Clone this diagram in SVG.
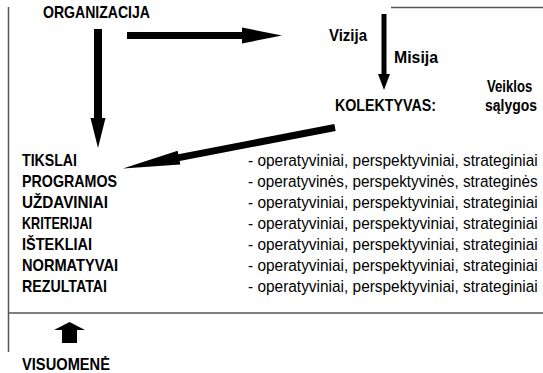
<svg xmlns="http://www.w3.org/2000/svg" width="543" height="373" viewBox="0 0 543 373">
<style>
.b{font-family:"Liberation Sans",Arial,sans-serif;font-weight:bold;font-size:17px;fill:#000}
.r{font-family:"Liberation Sans",Arial,sans-serif;font-size:17px;fill:#000}
.ln{stroke:#555;stroke-width:1.5;fill:none}
.ar{fill:#000;stroke:none}
</style>
<rect width="543" height="373" fill="#fff"/>
<g id="frame">
<line class="ln" x1="8.5" y1="7" x2="8.5" y2="352"/>
<line class="ln" x1="391" y1="7.5" x2="543" y2="7.5"/>
<line class="ln" x1="8" y1="313" x2="543" y2="313"/>
</g>
<g id="connectors">
<polygon class="ar" points="94,29 102,29 102,118 105.5,118 98,148 90.5,118 94,118"/>
<polygon class="ar" points="127,32 242,32 242,27.5 282,35.5 242,43.5 242,39 127,39"/>
<polygon class="ar" points="381.5,14 386.5,14 386.5,74 390,74 384,90 378,74 381.5,74"/>
<polygon class="ar" points="334.34,124.06 178.34,154.16 177.67,150.73 123,168.4 180.33,164.47 179.66,161.04 335.66,130.94"/>
<polygon class="ar" points="62,343 62,330 54,330 69.5,322 85,330 77,330 77,343"/>
</g>
<g id="organizacija"><text class="b" x="43" y="18" textLength="107" lengthAdjust="spacingAndGlyphs">ORGANIZACIJA</text></g>
<g id="vizija"><text class="b" x="329" y="41" textLength="38" lengthAdjust="spacingAndGlyphs">Vizija</text></g>
<g id="misija"><text class="b" x="394" y="63" textLength="44" lengthAdjust="spacingAndGlyphs">Misija</text></g>
<g id="kolektyvas"><text class="b" x="335" y="111" textLength="101" lengthAdjust="spacingAndGlyphs">KOLEKTYVAS:</text></g>
<g id="veiklos-salygos">
<text class="b" transform="translate(487,92) scale(0.773,1)">Veiklos</text>
<text class="b" transform="translate(485,111) scale(0.821,1)">sąlygos</text>
</g>
<g id="list">
<text class="b" x="22" y="166" textLength="55" lengthAdjust="spacingAndGlyphs">TIKSLAI</text>
<text class="b" x="22" y="187" textLength="95" lengthAdjust="spacingAndGlyphs">PROGRAMOS</text>
<text class="b" x="22" y="208" textLength="86" lengthAdjust="spacingAndGlyphs">UŽDAVINIAI</text>
<text class="b" x="22" y="229" textLength="70" lengthAdjust="spacingAndGlyphs">KRITERIJAI</text>
<text class="b" x="22" y="250" textLength="70" lengthAdjust="spacingAndGlyphs">IŠTEKLIAI</text>
<text class="b" x="22" y="271" textLength="96" lengthAdjust="spacingAndGlyphs">NORMATYVAI</text>
<text class="b" x="22" y="292" textLength="85" lengthAdjust="spacingAndGlyphs">REZULTATAI</text>
<text class="r" transform="translate(248,166) scale(0.908,1)">- operatyviniai, perspektyviniai, strateginiai</text>
<text class="r" transform="translate(248,187) scale(0.9,1)">- operatyvinės, perspektyvinės, strateginės</text>
<text class="r" transform="translate(248,208) scale(0.908,1)">- operatyviniai, perspektyviniai, strateginiai</text>
<text class="r" transform="translate(248,229) scale(0.908,1)">- operatyviniai, perspektyviniai, strateginiai</text>
<text class="r" transform="translate(248,250) scale(0.908,1)">- operatyviniai, perspektyviniai, strateginiai</text>
<text class="r" transform="translate(248,271) scale(0.908,1)">- operatyviniai, perspektyviniai, strateginiai</text>
<text class="r" transform="translate(248,292) scale(0.908,1)">- operatyviniai, perspektyviniai, strateginiai</text>
</g>
<g id="visuomene"><text class="b" x="22" y="370" textLength="88" lengthAdjust="spacingAndGlyphs">VISUOMENĖ</text></g>
</svg>
